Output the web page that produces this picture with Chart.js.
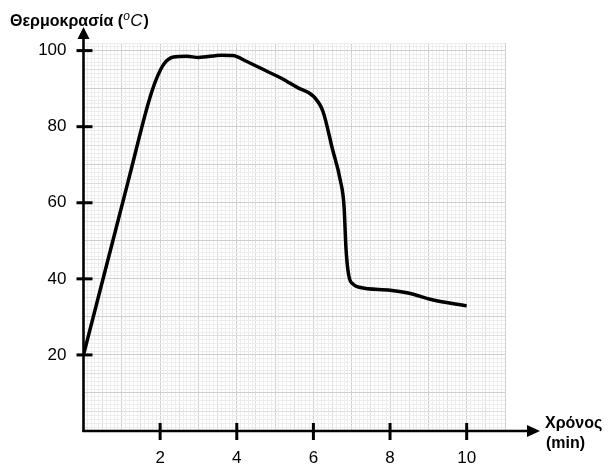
<!DOCTYPE html>
<html>
<head>
<meta charset="utf-8">
<script src="https://cdn.jsdelivr.net/npm/chart.js@4.4.1/dist/chart.umd.min.js"></script>
<style>
  html, body { margin: 0; padding: 0; background: #fff; }
  #wrap { width: 608px; height: 467px; }
</style>
</head>
<body>
<div id="wrap"><canvas id="tempChart" width="608" height="467"></canvas></div>
<script>
// time (min) and temperature (oC)
const timeMin = [0, 0.6, 1.2, 1.7, 1.9, 2.1, 2.35, 2.7, 3.0, 3.6, 3.9, 4.25, 4.8, 5.15, 5.6, 6.0, 6.25, 6.5, 6.7, 6.8, 6.85, 6.92, 7.05, 7.2, 8.0, 8.5, 9.1, 10.0];
const tempC = [20, 43.5, 67, 86.5, 92.5, 96.5, 98.3, 98.5, 98.2, 98.8, 98.7, 97.2, 94.5, 92.8, 90.2, 88, 84, 74, 66, 59, 48, 41, 38.5, 37.8, 37, 36.2, 34.5, 32.9];

const xTickLabels = [2, 4, 6, 8, 10];
const yTickLabels = [20, 40, 60, 80, 100];

const FONT = "'Liberation Sans', Arial, Helvetica, sans-serif";

function near(v, step) {
  return Math.abs(v / step - Math.round(v / step)) < 1e-6;
}

function isLabel(v, list) {
  return list.some(t => Math.abs(v - t) < 1e-6);
}

// axes with arrows, crossing tick marks and the axis titles
const axesPlugin = {
  id: 'axesPlugin',
  afterDraw(chart) {
    const ctx = chart.ctx;
    const xs = chart.scales.x;
    const ys = chart.scales.y;
    const x0 = xs.getPixelForValue(0);
    const y0 = ys.getPixelForValue(0);
    ctx.save();
    ctx.strokeStyle = '#000';
    ctx.fillStyle = '#000';
    ctx.lineWidth = 2.6;

    // y axis
    ctx.beginPath();
    ctx.moveTo(x0, y0 + 1);
    ctx.lineTo(x0, 38);
    ctx.stroke();
    ctx.beginPath();
    ctx.moveTo(x0, 27);
    ctx.lineTo(x0 - 6, 39);
    ctx.lineTo(x0 + 6, 39);
    ctx.closePath();
    ctx.fill();

    // x axis
    ctx.beginPath();
    ctx.moveTo(x0 - 1, y0);
    ctx.lineTo(528, y0);
    ctx.stroke();
    ctx.beginPath();
    ctx.moveTo(540, y0);
    ctx.lineTo(527, y0 - 6);
    ctx.lineTo(527, y0 + 6);
    ctx.closePath();
    ctx.fill();

    // tick marks
    ctx.lineWidth = 3;
    xTickLabels.forEach(v => {
      const px = xs.getPixelForValue(v);
      ctx.beginPath();
      ctx.moveTo(px, y0 - 8);
      ctx.lineTo(px, y0 + 9);
      ctx.stroke();
    });
    yTickLabels.forEach(v => {
      const py = ys.getPixelForValue(v);
      ctx.beginPath();
      ctx.moveTo(x0 - 7, py);
      ctx.lineTo(x0 + 9, py);
      ctx.stroke();
    });

    // titles
    ctx.textBaseline = 'alphabetic';
    ctx.textAlign = 'left';
    ctx.font = 'bold 16px ' + FONT;
    const t1 = 'Θερμοκρασία (';
    ctx.fillText(t1, 10, 26);
    let tx = 10 + ctx.measureText(t1).width;
    ctx.font = 'italic 12px ' + FONT;
    ctx.fillText('o', tx, 20);
    tx += ctx.measureText('o').width + 0.5;
    ctx.font = 'italic 17px ' + FONT;
    ctx.fillText('C', tx, 26);
    tx += ctx.measureText('C').width + 1;
    ctx.font = 'bold 16px ' + FONT;
    ctx.fillText(')', tx, 26);

    ctx.fillText('Χρόνος', 545, 428);
    ctx.fillText('(min)', 546, 448);
    ctx.restore();
  }
};

const ctx = document.getElementById('tempChart').getContext('2d');
new Chart(ctx, {
  type: 'line',
  data: {
    datasets: [{
      label: 'Θερμοκρασία',
      data: timeMin.map((t, i) => ({ x: t, y: tempC[i] })),
      borderColor: '#000',
      borderWidth: 3.5,
      pointRadius: 0,
      fill: false,
      cubicInterpolationMode: 'monotone'
    }]
  },
  options: {
    responsive: false,
    animation: false,
    layout: { padding: { top: 43, right: 103, left: 0, bottom: 0 } },
    plugins: {
      legend: { display: false },
      tooltip: { enabled: false }
    },
    scales: {
      x: {
        type: 'linear',
        min: 0,
        max: 11,
        afterFit: scale => { scale.height = 36; },
        border: { display: false },
        grid: {
          drawTicks: false,
          lineWidth: 1,
          color: c => {
            const v = c.tick.value;
            if (near(v, 1)) return '#cfcfcf';
            if (near(v, 0.5)) return '#dedede';
            return '#ededed';
          }
        },
        ticks: {
          stepSize: 0.1,
          maxTicksLimit: 200,
          autoSkip: false,
          maxRotation: 0,
          padding: 17,
          color: '#000',
          font: { family: FONT, size: 17 },
          callback: v => (isLabel(v, xTickLabels) ? String(Math.round(v)) : '')
        }
      },
      y: {
        type: 'linear',
        min: 0,
        max: 102,
        afterFit: scale => { scale.width = 83.5; },
        border: { display: false },
        grid: {
          drawTicks: false,
          lineWidth: 1,
          color: c => {
            const v = c.tick.value;
            if (near(v, 10)) return '#cfcfcf';
            if (near(v, 5)) return '#dedede';
            return '#ededed';
          }
        },
        ticks: {
          stepSize: 1,
          maxTicksLimit: 200,
          autoSkip: false,
          padding: 17,
          color: '#000',
          font: { family: FONT, size: 17 },
          callback: v => (isLabel(v, yTickLabels) ? String(Math.round(v)) : '')
        }
      }
    }
  },
  plugins: [axesPlugin]
});
</script>
</body>
</html>
